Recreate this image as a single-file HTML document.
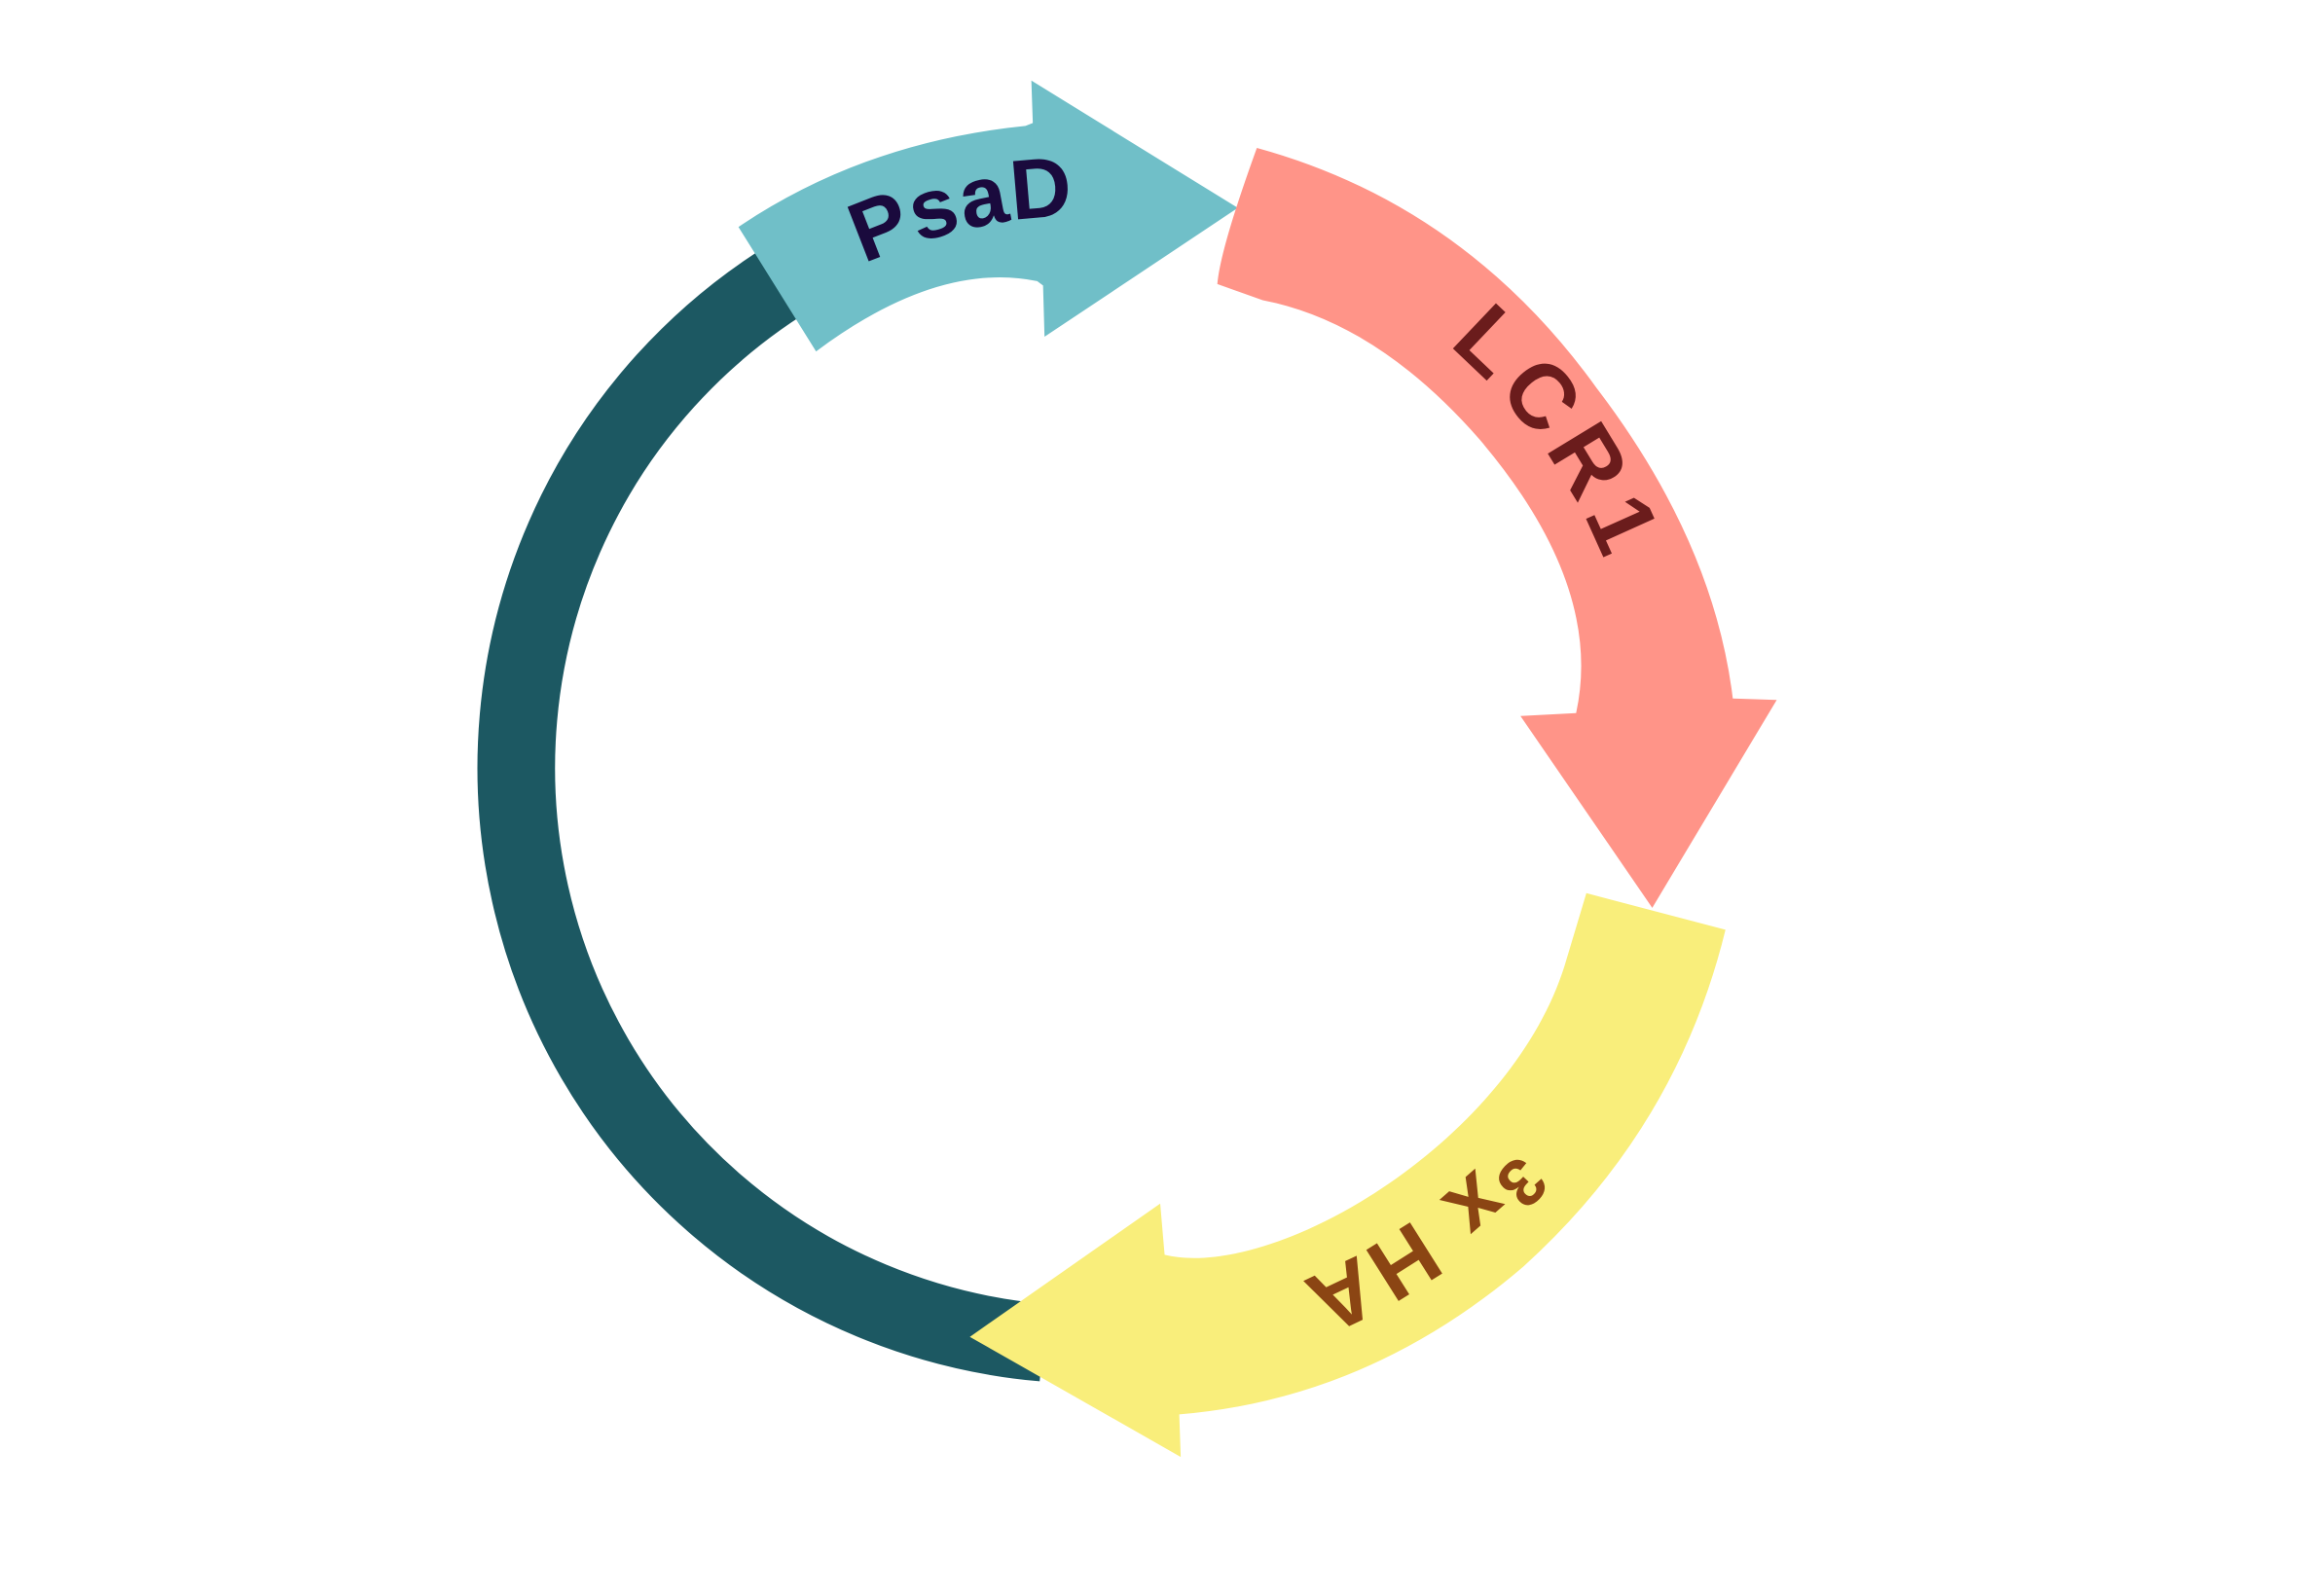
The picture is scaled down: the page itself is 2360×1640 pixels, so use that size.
<!DOCTYPE html>
<html><head><meta charset="utf-8"><style>html,body{margin:0;padding:0;background:#fff}svg{display:block}</style></head>
<body>
<svg width="2360" height="1640" viewBox="0 0 1568 1090" xmlns="http://www.w3.org/2000/svg">
<defs>
<path id="circ" d="M367,525 A378,378 0 1 1 1123,525 A378,378 0 1 1 367,525"/>
</defs>
<path d="M548,184 A394,394 0 0 0 712,917" fill="none" stroke="#1c5862" stroke-width="53"/>
<path d="M504,155 Q590,97 700,86 L705,84 L704,55 L845,142 L713,230 L712,195 L708,192 Q640,178 557,240 Z" fill="#70bfc8"/>
<path d="M858,101 Q1000,140 1090,265 Q1170,370 1183,477 L1213,478 L1128,620 L1038,489 L1076,487 Q1095,400 1010,300 Q940,220 862,205 L831,194 Q833,170 858,101 Z" fill="#ff9488"/>
<path d="M1083,610 L1178,635 Q1145,770 1040,865 Q935,955 805,966 L806,995 L662,913 L792,822 L795,857 C870,875 1030,780 1068,660 Z" fill="#f9ee7b"/>
<g font-family="Liberation Sans, sans-serif" font-weight="bold" text-anchor="middle">
<text font-size="58" fill="#1a0a3d" letter-spacing="1"><textPath href="#circ" startOffset="508">PsaD</textPath></text>
<text font-size="62" fill="#6b1c1c" letter-spacing="7"><textPath href="#circ" startOffset="953">LCR1</textPath></text>
<text font-size="60" fill="#8b4513" letter-spacing="2"><textPath href="#circ" startOffset="1550"><tspan font-size="46" dy="-14">3</tspan><tspan dy="14">x HA</tspan></textPath></text>
</g>
</svg>
</body></html>
